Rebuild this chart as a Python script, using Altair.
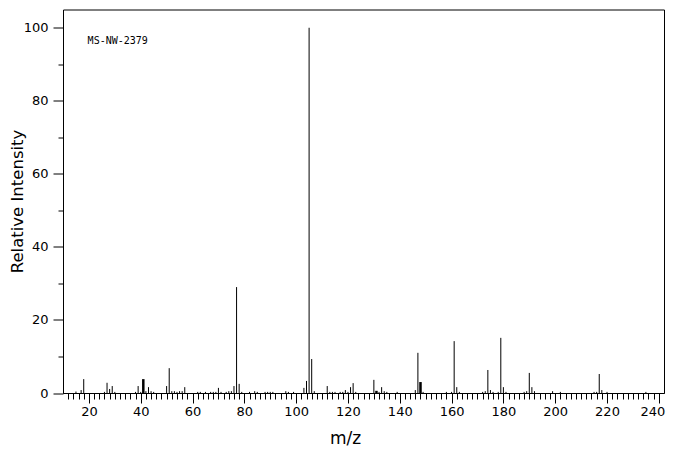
import altair as alt
import pandas as pd

mz = [15, 17, 18, 26, 27, 28, 29, 30, 38, 39, 40, 41, 42, 43, 44, 45, 50, 51, 52, 53,
      54, 55, 56, 57, 62, 63, 65, 67, 68, 69, 70, 71, 73, 74, 75, 76, 77, 78, 79, 82,
      84, 85, 88, 89, 90, 91, 96, 97, 99, 103, 104, 105, 106, 107, 112, 113, 114, 115,
      117, 118, 119, 120, 121, 122, 123, 130, 131, 132, 133, 134, 135, 139, 146, 147,
      148, 149, 158, 160, 161, 162, 163, 172, 173, 174, 175, 176, 178, 179, 180, 181,
      188, 189, 190, 191, 192, 199, 202, 215, 216, 217, 218, 220, 235]
intensity = [0.4, 0.8, 3.8, 0.3, 2.8, 1.1, 1.9, 0.3, 0.3, 1.9, 0.3, 3.8, 0.5, 1.6, 0.5, 0.3,
             1.9, 6.8, 0.5, 0.5, 0.3, 0.5, 0.5, 1.6, 0.3, 0.3, 0.3, 0.3, 0.3, 0.3, 1.4, 0.3,
             0.3, 0.5, 0.5, 1.9, 29.0, 2.5, 0.3, 0.3, 0.5, 0.3, 0.3, 0.3, 0.3, 0.3, 0.5, 0.3,
             0.3, 1.4, 3.3, 100.0, 9.3, 0.5, 1.9, 0.3, 0.3, 0.3, 0.3, 0.3, 0.8, 0.3, 1.6, 2.7,
             0.3, 3.6, 0.6, 0.3, 1.6, 0.5, 0.3, 0.3, 0.8, 11.0, 3.0, 0.3, 0.3, 0.3, 14.2, 1.6,
             0.3, 0.3, 0.5, 6.3, 0.8, 0.3, 0.3, 15.1, 1.6, 0.3, 0.3, 0.5, 5.5, 1.6, 0.5, 0.5,
             0.3, 0.3, 0.3, 5.2, 0.8, 0.3, 0.3]
thick_peaks = [41, 131, 148]

x_major = list(range(20, 241, 20))
x_minor = list(range(12, 241, 2))
y_major = [0, 20, 40, 60, 80, 100]
y_minor = [10, 30, 50, 70, 90]

sample_id = "MS-NW-2379"

df = pd.DataFrame({"mz": mz, "intensity": intensity, "zero": [0] * len(mz)})

FONT = "DejaVu Sans"
xscale = alt.Scale(domain=[10, 242], nice=False, zero=False)
yscale = alt.Scale(domain=[0, 105], nice=False)

base = alt.Chart(df)

peaks = base.mark_rule(color="black").encode(
    x=alt.X("mz:Q", scale=xscale,
            axis=alt.Axis(orient="bottom", values=x_major, format="d", tickSize=10,
                          labelPadding=2, labelFontSize=13, labelFont=FONT,
                          labelColor="black", domain=True, domainColor="black",
                          tickColor="black", title="m/z", titleFont=FONT,
                          titleFontSize=17, titleFontWeight="normal", titleColor="black",
                          titleX=282, titleY=50, titleBaseline="alphabetic",
                          grid=False, labelFlush=8, labelFlushOffset=6)),
    y=alt.Y("intensity:Q", scale=yscale,
            axis=alt.Axis(orient="left", values=y_major, format="d", tickSize=10,
                          labelPadding=5, labelFontSize=13, labelFont=FONT,
                          labelColor="black", domain=True, domainColor="black",
                          tickColor="black", title="Relative Intensity", titleFont=FONT,
                          titleFontSize=16.5, titleFontWeight="normal", titleColor="black",
                          titleX=-41, titleY=191.5, titleAngle=-90, titleAlign="center",
                          titleBaseline="alphabetic", grid=False, labelFlush=False)),
    y2="zero:Q",
    strokeWidth=alt.condition(alt.FieldOneOfPredicate(field="mz", oneOf=thick_peaks),
                              alt.value(2.5), alt.value(1)),
)

minor = base.mark_rule(opacity=0).encode(
    x=alt.X("mz:Q", scale=xscale,
            axis=alt.Axis(orient="bottom", values=x_minor, tickSize=6, labels=False,
                          domain=False, tickColor="black", title=None, grid=False)),
    y=alt.Y("intensity:Q", scale=yscale,
            axis=alt.Axis(orient="left", values=y_minor, tickSize=5, labels=False,
                          domain=False, tickColor="black", title=None, grid=False)),
)

label = alt.Chart(pd.DataFrame({"t": [sample_id]})).mark_text(
    align="left", baseline="middle", font="DejaVu Sans Mono", fontSize=10, color="black"
).encode(
    x=alt.X(datum=19.5, scale=xscale, axis=None),
    y=alt.Y(datum=96.4, scale=yscale, axis=None),
    text="t:N",
)

chart = alt.layer(peaks, minor, label).resolve_axis(
    x="independent", y="independent"
).properties(
    width=601, height=383.5,
    autosize=alt.AutoSizeParams(type="none"),
    padding={"left": 55, "top": 1.5, "right": 4, "bottom": 54},
    background="white",
).configure_view(stroke="black", strokeWidth=1)

chart.save("out.html", embed_options={"renderer": "svg", "actions": False})
